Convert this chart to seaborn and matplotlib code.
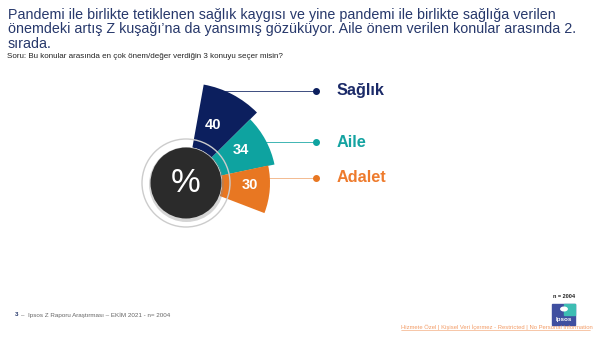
import numpy as np
import matplotlib
matplotlib.use("Agg")
import matplotlib.pyplot as plt
from matplotlib.patches import Circle, Rectangle
import seaborn as sns

# ---- data ----
categories = ["Sağlık", "Aile", "Adalet"]
values = [40, 34, 30]
value_labels = ["40", "34", "30"]

title = ("Pandemi ile birlikte tetiklenen sağlık kaygısı ve yine pandemi ile birlikte sağlığa verilen\n"
         "önemdeki artış Z kuşağı’na da yansımış gözüküyor. Aile önem verilen konular arasında 2.\n"
         "sırada.")
subtitle = "Soru: Bu konular arasında en çok önem/değer verdiğin 3 konuyu seçer misin?"
footer = "Ipsos Z Raporu Araştırması – EKİM 2021 - n= 2004"
n_text = "n = 2004"
link_text = "Hizmete Özel | Kişisel Veri İçermez - Restricted | No Personal Information"

colors = ["#0c1f5e", "#0ea3a0", "#e87722"]
label_colors = ["#1b2a68", "#14a3a1", "#ee7b2d"]

sns.set_theme(style="white")
plt.rcParams["font.family"] = ["Liberation Sans", "DejaVu Sans"]

W, H = 602, 340
fig = plt.figure(figsize=(W / 100, H / 100), dpi=100)
fig.patch.set_facecolor("white")

def fx(x):
    return x / W

def fy(y):
    return 1 - y / H

# ---- polar wedge chart ----
cx, cy = 186, 183
S = 240
rect = [fx(cx - S / 2), (H - cy - S / 2) / H, S / W, S / H]
ax = fig.add_axes(rect, projection="polar")
ax.set_axis_off()
ax.set_rorigin(-22.5)
ax.set_ylim(0, 52.5)

centers_deg = [62.3, 28.3, -4.5]
widths_deg = [35, 33, 33]
theta = np.deg2rad(centers_deg)
ax.bar(theta, values, width=np.deg2rad(widths_deg), bottom=0,
       color=colors, edgecolor="none", align="center", zorder=2)

for t, v, lab in zip(theta, values, value_labels):
    ax.text(t + np.deg2rad(3), 17.5, lab, color="white", fontsize=10.5,
            fontweight="bold", ha="center", va="center", zorder=5)

# overlay axes (pixel units) for the centre disc
ov = fig.add_axes(rect)
ov.set_xlim(-S / 2, S / 2)
ov.set_ylim(-S / 2, S / 2)
ov.set_axis_off()
ov.patch.set_alpha(0)
ov.add_patch(Circle((0.5, -1.5), 37.5, facecolor="#888888", alpha=0.35,
                    edgecolor="none", zorder=3))
ov.add_patch(Circle((0, 0), 35.5, facecolor="#2b2b2b", edgecolor="none", zorder=4))
ov.add_patch(Circle((0, 0), 44, fill=False, edgecolor="#cccccc", lw=1.0, zorder=4))
ov.text(0, 0, "%", color="white", fontsize=24, ha="center", va="center", zorder=6)

# ---- leader lines & category labels ----
lines_y = [91, 142, 178]
lines_x0 = [223, 263, 267]
dot_x = 316
for cat, col, lc, y, x0 in zip(categories, colors, label_colors, lines_y, lines_x0):
    fig.add_artist(plt.Line2D([fx(x0), fx(dot_x)], [fy(y), fy(y)], color=col,
                              lw=0.7, alpha=0.8 if col != colors[2] else 0.5,
                              transform=fig.transFigure))
    fig.add_artist(plt.Line2D([fx(dot_x)], [fy(y)], marker="o", markersize=4,
                              color=col, transform=fig.transFigure))
    fig.text(fx(337), fy(y), cat, color=lc, fontsize=11.7, fontweight="bold",
             ha="left", va="center")

# ---- titles ----
fig.text(fx(8), fy(8.5), title, color="#27386b", fontsize=10.3, ha="left", va="top",
         linespacing=1.0)
fig.text(fx(7), fy(56), subtitle, color="#222222", fontsize=5.8, ha="left",
         va="center")

# ---- footer ----
fig.text(fx(15), fy(315), "3", color="#27386b", fontsize=4.5, ha="left", va="center",
         fontweight="bold")
fig.text(fx(21), fy(315), "–  " + footer, color="#666666", fontsize=4.5, ha="left",
         va="center")
fig.text(fx(564), fy(297), n_text, color="#222222", fontsize=4.0, ha="center",
         va="center", fontweight="bold")

# Ipsos logo
fig.add_artist(Rectangle((fx(552), fy(325)), 23 / W, 21 / H, color="#3f4fa0",
                         transform=fig.transFigure))
fig.add_artist(Rectangle((fx(564), fy(315)), 11 / W, 11 / H, color="#3dbdb3",
                         transform=fig.transFigure))
fig.add_artist(Circle((fx(564), fy(309)), 3.2 / W, color="white",
                      transform=fig.transFigure))
fig.text(fx(563.5), fy(320), "Ipsos", color="white", fontsize=4.5, ha="center",
         va="center", fontweight="bold")

fig.text(fx(401), fy(327.5), link_text, color="#f08a4b", fontsize=4.2, ha="left",
         va="center", alpha=0.85)
fig.add_artist(plt.Line2D([fx(401), fx(590)], [fy(330), fy(330)], color="#f08a4b",
                          lw=0.4, alpha=0.85, transform=fig.transFigure))

fig.savefig("out.png", dpi=100, facecolor="white")
